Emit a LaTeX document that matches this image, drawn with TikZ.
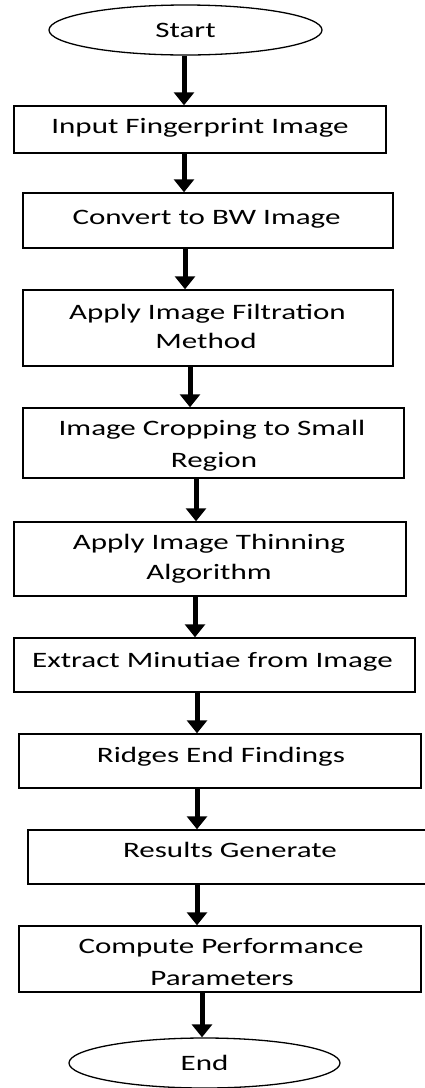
\documentclass[tikz,border=0pt]{standalone}
\usepackage{fontspec}
\setmainfont{Carlito}[FakeStretch=1.41]
\usetikzlibrary{arrows.meta,shapes.geometric}
\begin{document}
\begin{tikzpicture}[
  box/.style={draw=black, line width=1.5pt, rectangle, inner sep=0pt},
  term/.style={draw=black, line width=1.3pt, ellipse, inner sep=0pt, font=\fontsize{22}{28}\selectfont},
  lbl/.style={anchor=base, inner sep=0pt, font=\fontsize{22}{28}\selectfont},
  arr/.style={line width=5pt, -{Triangle[width=20pt,length=13pt]}}
]
\useasboundingbox (0pt,0pt) rectangle (425pt,-1088pt);
% terminals
\node[term, minimum width=273pt, minimum height=50pt] (start) at (185.5pt,-30pt) {Start};
\node[term, minimum width=271pt, minimum height=50pt] (end) at (204.5pt,-1063pt) {End};
% boxes
\node[box, minimum width=372pt, minimum height=47pt] (b1) at (200pt,-129.5pt) {};
\node[box, minimum width=370pt, minimum height=55pt] (b2) at (208pt,-220.5pt) {};
\node[box, minimum width=370pt, minimum height=76pt] (b3) at (208pt,-328pt) {};
\node[box, minimum width=381pt, minimum height=70pt] (b4) at (213.5pt,-443pt) {};
\node[box, minimum width=392pt, minimum height=74pt] (b5) at (210pt,-559pt) {};
\node[box, minimum width=401pt, minimum height=54pt] (b6) at (214.5pt,-665pt) {};
\node[box, minimum width=402pt, minimum height=54pt] (b7) at (220pt,-761pt) {};
\node[box, minimum width=407pt, minimum height=54pt] (b8) at (231.5pt,-857pt) {};
\node[box, minimum width=402pt, minimum height=66pt] (b9) at (220pt,-959pt) {};
% texts
\node[lbl] (t1) at (200pt,-133pt) {Input Fingerprint Image};
\node[lbl] (t2) at (206.5pt,-224pt) {Convert to BW Image};
\node[lbl] (t3a) at (207.5pt,-319pt) {Apply Image Filtration};
\node[lbl] (t3b) at (206pt,-348pt) {Method};
\node[lbl] (t4a) at (212pt,-435pt) {Image Cropping to Small};
\node[lbl] (t4b) at (214pt,-467pt) {Region};
\node[lbl] (t5a) at (209pt,-549pt) {Apply Image Thinning};
\node[lbl] (t5b) at (209pt,-579pt) {Algorithm};
\node[lbl] (t6) at (212.5pt,-667pt) {Extract Minutiae from Image};
\node[lbl] (t7) at (221pt,-762pt) {Ridges End Findings};
\node[lbl] (t8) at (230pt,-857pt) {Results Generate};
\node[lbl] (t9a) at (221pt,-953pt) {Compute Performance};
\node[lbl] (t9b) at (222pt,-985pt) {Parameters};
% arrow columns
\coordinate (x1) at (184pt,0pt);
\coordinate (x2) at (184pt,0pt);
\coordinate (x3) at (185pt,0pt);
\coordinate (x4) at (190pt,0pt);
\coordinate (x5) at (196pt,0pt);
\coordinate (x6) at (195pt,0pt);
\coordinate (x7) at (197pt,0pt);
\coordinate (x8) at (197pt,0pt);
\coordinate (x9) at (197pt,0pt);
\coordinate (x10) at (202pt,0pt);
% connectors
\draw[arr] (start.south -| x1) -- (b1.north -| x1);
\draw[arr] (b1.south -| x2) -- (b2.north -| x2);
\draw[arr] (b2.south -| x3) -- (b3.north -| x3);
\draw[arr] (b3.south -| x4) -- (b4.north -| x4);
\draw[arr] (b4.south -| x5) -- (b5.north -| x5);
\draw[arr] (b5.south -| x6) -- (b6.north -| x6);
\draw[arr] (b6.south -| x7) -- (b7.north -| x7);
\draw[arr] (b7.south -| x8) -- (b8.north -| x8);
\draw[arr] (b8.south -| x9) -- (b9.north -| x9);
\draw[arr] (b9.south -| x10) -- (end.north -| x10);
\end{tikzpicture}
\end{document}
